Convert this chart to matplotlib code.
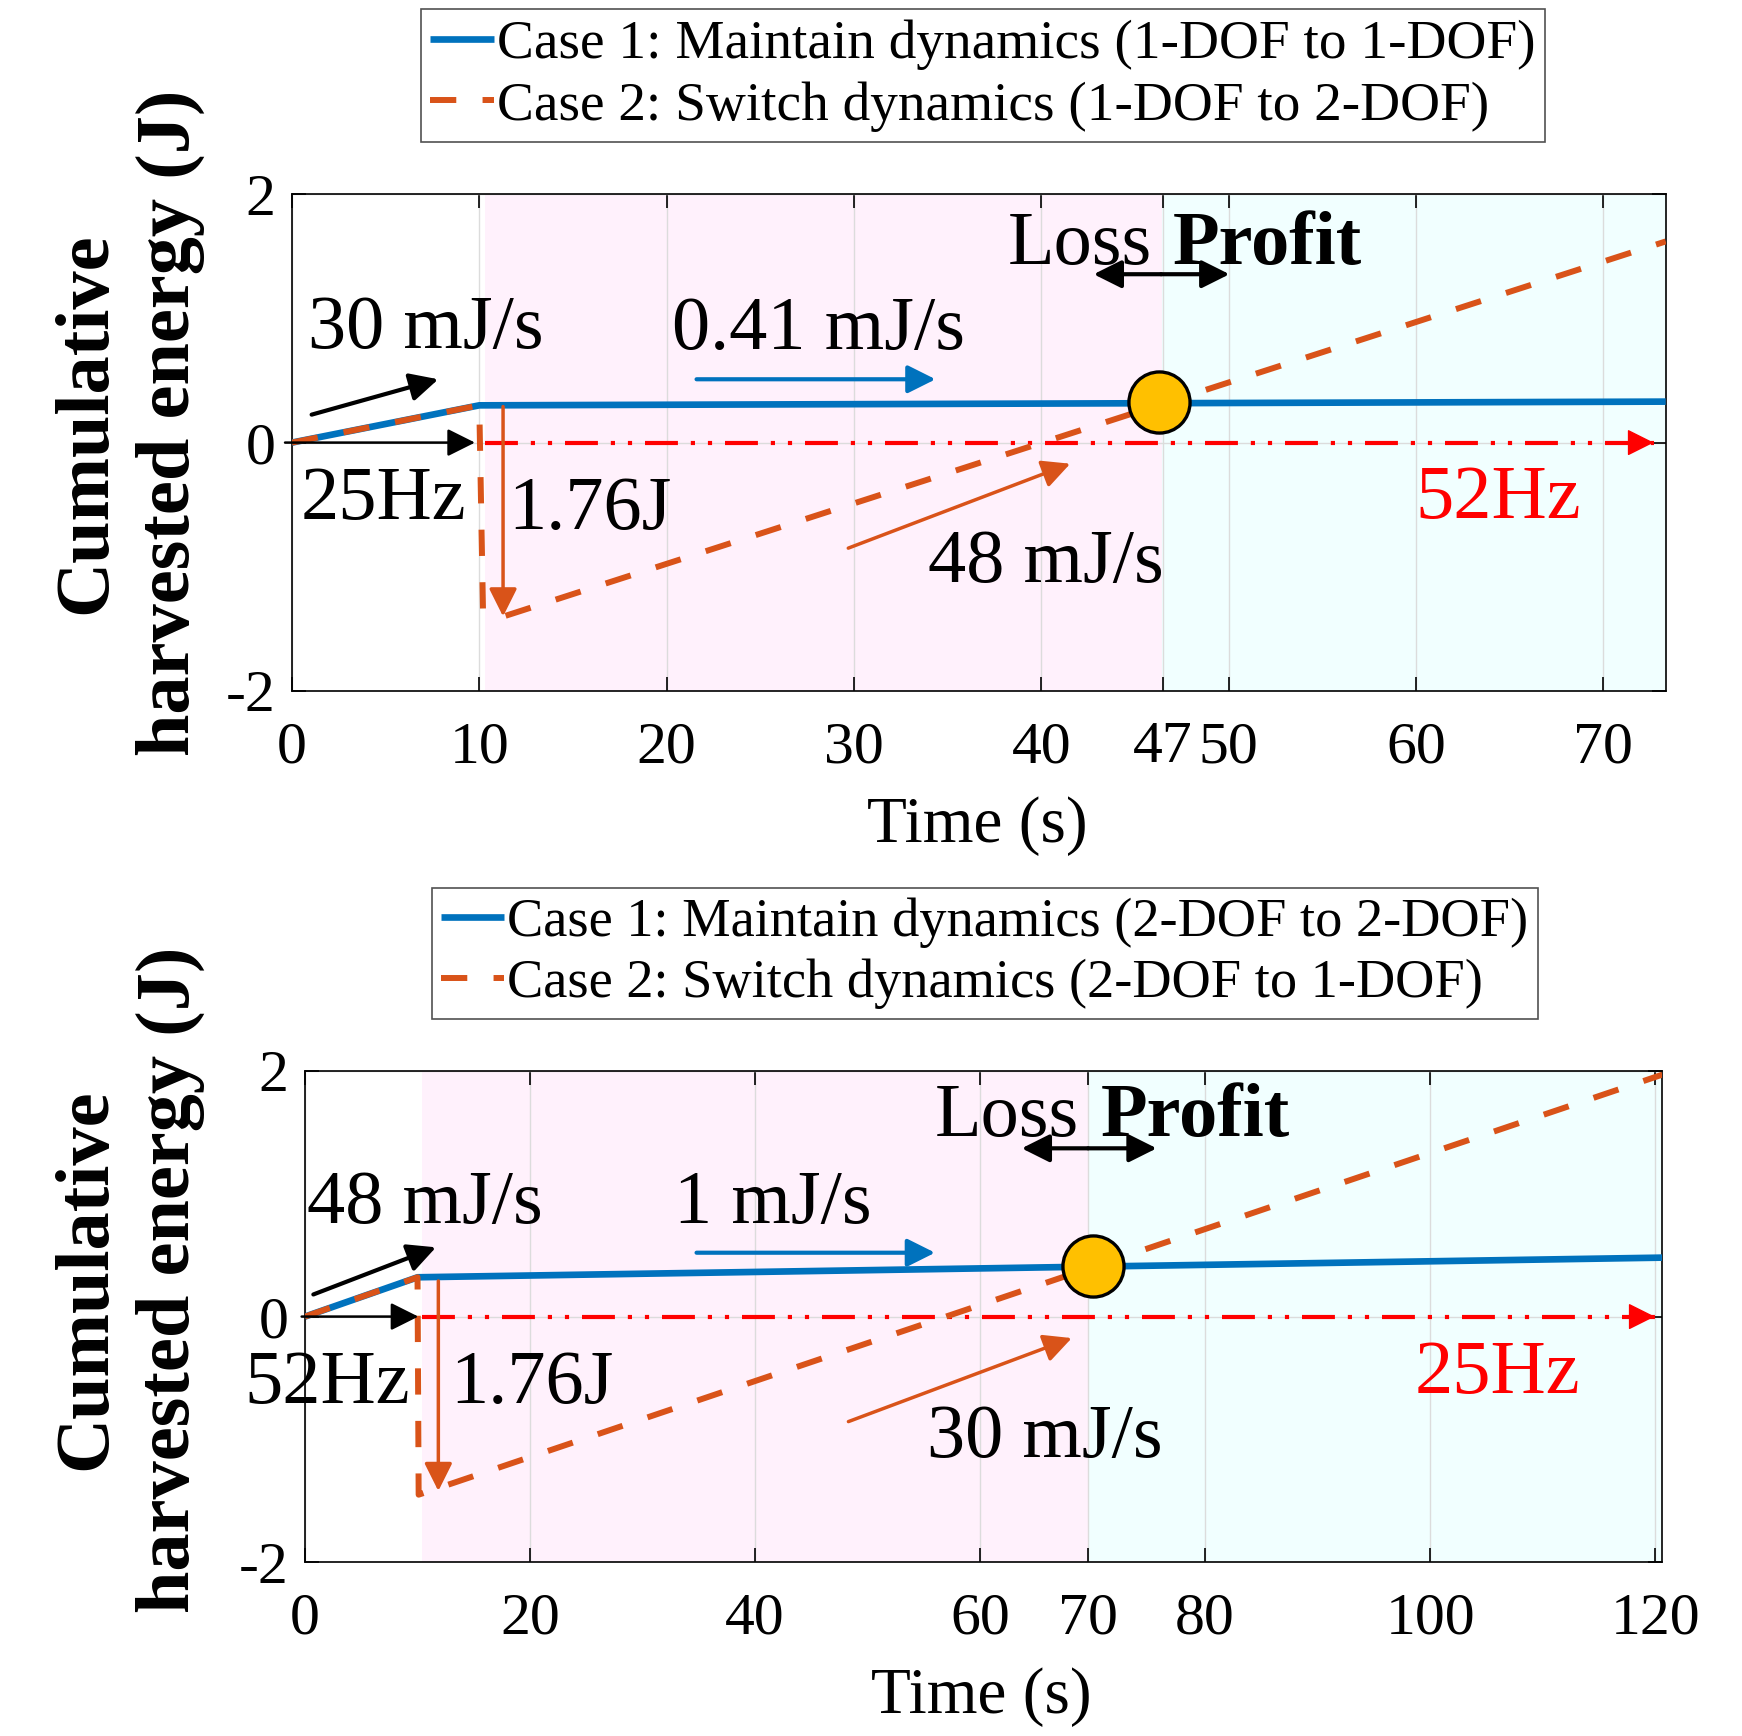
import matplotlib
matplotlib.use('Agg')
import matplotlib.pyplot as plt

plt.rcParams['font.family'] = ['Liberation Serif', 'DejaVu Serif']

# ---------------- data ----------------
# top panel (25 Hz -> 52 Hz)
t1_case1 = [0, 10, 73.34]
e1_case1 = [0, 0.30, 0.33]
t1_case2 = [0, 10, 10.2, 11.3, 73.34]
e1_case2 = [0, 0.30, -1.36, -1.40, 1.62]
t1_cross, e1_cross = 46.3, 0.33
x1_lim = [0, 73.34]
x1_ticks = [0, 10, 20, 30, 40, 46.5, 50, 60, 70]
x1_ticklabels = ['0', '10', '20', '30', '40', '47', '50', '60', '70']
t1_loss_span = [10.3, 46.47]
t1_profit_span = [46.47, 73.34]
t1_ref_line = [10.3, 72.7]

# bottom panel (52 Hz -> 25 Hz)
t2_case1 = [0, 10, 120.65]
e2_case1 = [0, 0.32, 0.48]
t2_case2 = [0, 10, 10.1, 120.65]
e2_case2 = [0, 0.32, -1.45, 1.97]
t2_cross, e2_cross = 70.0, 0.41
x2_lim = [0, 120.65]
x2_ticks = [0, 20, 40, 60, 69.6, 80, 100, 120]
x2_ticklabels = ['0', '20', '40', '60', '70', '80', '100', '120']
t2_loss_span = [10.37, 69.63]
t2_profit_span = [69.63, 120.65]
t2_ref_line = [10.4, 119.97]

y_lim = [-2, 2]
y_ticks = [-2, 0, 2]
y_ticklabels = ['-2', '0', '2']

legend1 = ['Case 1: Maintain dynamics (1-DOF to 1-DOF)',
           'Case 2: Switch dynamics (1-DOF to 2-DOF)']
legend2 = ['Case 1: Maintain dynamics (2-DOF to 2-DOF)',
           'Case 2: Switch dynamics (2-DOF to 1-DOF)']

# annotation texts: (text, x, y, color, weight)
texts1 = [('30 mJ/s', 7.17, 0.91, 'black', 'normal'),
          ('0.41 mJ/s', 28.1, 0.90, 'black', 'normal'),
          ('25Hz', 4.88, -0.47, 'black', 'normal'),
          ('1.76J', 15.9, -0.55, 'black', 'normal'),
          ('Loss', 42.08, 1.59, 'black', 'normal'),
          ('Profit', 52.1, 1.59, 'black', 'bold'),
          ('48 mJ/s', 40.23, -0.97, 'black', 'normal'),
          ('52Hz', 64.39, -0.46, 'red', 'normal')]
texts2 = [('48 mJ/s', 10.64, 0.91, 'black', 'normal'),
          ('1 mJ/s', 41.6, 0.91, 'black', 'normal'),
          ('52Hz', 1.93, -0.55, 'black', 'normal'),
          ('1.76J', 20.15, -0.55, 'black', 'normal'),
          ('Loss', 62.4, 1.62, 'black', 'normal'),
          ('Profit', 79.1, 1.62, 'black', 'bold'),
          ('30 mJ/s', 65.8, -0.99, 'black', 'normal'),
          ('25Hz', 106.0, -0.47, 'red', 'normal')]

# arrows: (x_from, y_from, x_to, y_to, color, lw)
BLUE = '#0072BD'
ORANGE = '#D95319'
arrows1 = [(1.05, 0.225, 7.81, 0.51, 'black', 3.0),
           (-0.37, 0.0, 9.77, 0.0, 'black', 1.8),
           (21.6, 0.51, 34.36, 0.51, BLUE, 3.0),
           (11.27, 0.29, 11.27, -1.40, ORANGE, 2.5),
           (29.7, -0.85, 41.55, -0.17, ORANGE, 2.5),
           (46.4, 1.356, 42.8, 1.356, 'black', 3.0),
           (46.4, 1.356, 50.05, 1.356, 'black', 3.0)]
arrows2 = [(0.74, 0.18, 11.64, 0.564, 'black', 3.0),
           (-0.3, 0.0, 10.07, 0.0, 'black', 1.8),
           (34.8, 0.52, 56.0, 0.52, BLUE, 3.0),
           (11.85, 0.29, 11.85, -1.42, ORANGE, 2.5),
           (48.3, -0.855, 68.15, -0.175, ORANGE, 2.5),
           (69.6, 1.37, 63.7, 1.37, 'black', 3.0),
           (69.6, 1.37, 75.7, 1.37, 'black', 3.0)]

PINK = '#FFF1FC'
CYAN = '#F1FFFF'

fig = plt.figure(figsize=(17.42, 17.36), dpi=100)
ax1 = fig.add_axes([0.1676, 0.6020, 0.7886, 0.2861])
ax2 = fig.add_axes([0.1751, 0.1001, 0.7792, 0.2830])


def draw_panel(ax, tc1, ec1, tc2, ec2, tcr, ecr, xlim, xticks, xtl,
               loss, profit, refl, texts, arrows, labels, leg_anchor, leg_fs):
    ax.axvspan(loss[0], loss[1], facecolor=PINK, edgecolor='none', zorder=0.5)
    ax.axvspan(profit[0], profit[1], facecolor=CYAN, edgecolor='none', zorder=0.5)
    ax.grid(True, color='#dcdcdc', lw=1.0, zorder=0.8)
    ax.set_axisbelow(True)
    # reference frequency line
    ax.plot(refl, [0, 0], color='red', lw=3.0,
            dashes=(7.9, 3.1, 1, 3.1, 1, 3.1), dash_capstyle='butt', zorder=2)
    ax.annotate('', xy=(refl[1], 0), xytext=(refl[1] - 1.0 * (xlim[1] / 73.34), 0),
                arrowprops=dict(arrowstyle='-|>,head_length=1.0,head_width=0.5',
                                mutation_scale=17, color='red', lw=1.0,
                                shrinkA=0, shrinkB=0),
                annotation_clip=False, zorder=2)
    l1, = ax.plot(tc1, ec1, color=BLUE, lw=4.8, solid_capstyle='butt', zorder=3)
    l2, = ax.plot(tc2, ec2, color=ORANGE, lw=4.3, linestyle=(0, (4.4, 4.4)),
                  dash_capstyle='butt', zorder=4)
    ax.plot([tcr], [ecr], marker='o', ms=44, mfc='#FFC000', mec='black',
            mew=2.4, zorder=6, clip_on=False)
    for (s, x, y, c, w) in texts:
        ax.text(x, y, s, fontsize=55, color=c, fontweight=w,
                ha='center', va='center', zorder=7, clip_on=False)
    for (x0, y0, x1, y1, c, lw) in arrows:
        ax.annotate('', xy=(x1, y1), xytext=(x0, y0),
                    arrowprops=dict(arrowstyle='-|>,head_length=1.0,head_width=0.5',
                                    mutation_scale=17, color=c, lw=lw,
                                    shrinkA=0, shrinkB=0),
                    annotation_clip=False, zorder=5)
    ax.set_xlim(xlim)
    ax.set_ylim(y_lim)
    ax.set_xticks(xticks)
    ax.set_xticklabels(xtl)
    ax.set_yticks(y_ticks)
    ax.set_yticklabels(y_ticklabels)
    ax.tick_params(direction='in', length=10, width=1.2, top=True, right=True,
                   labelsize=43, colors='black')
    ax.tick_params(axis='x', pad=22)
    ax.tick_params(axis='y', pad=12)
    for sp in ax.spines.values():
        sp.set_linewidth(1.2)
        sp.set_color('black')
    leg = fig.legend([l1, l2], labels, loc='upper left', bbox_to_anchor=leg_anchor,
                     bbox_transform=fig.transFigure, borderaxespad=0,
                     fontsize=leg_fs, frameon=True, fancybox=False,
                     handlelength=1.15, handletextpad=0.05, borderpad=0.18,
                     labelspacing=0.2)
    leg.get_frame().set_edgecolor('#262626')
    leg.get_frame().set_linewidth(1.2)


draw_panel(ax1, t1_case1, e1_case1, t1_case2, e1_case2, t1_cross, e1_cross,
           x1_lim, x1_ticks, x1_ticklabels, t1_loss_span, t1_profit_span,
           t1_ref_line, texts1, arrows1, legend1, (0.2414, 0.9946), 39.8)
draw_panel(ax2, t2_case1, e2_case1, t2_case2, e2_case2, t2_cross, e2_cross,
           x2_lim, x2_ticks, x2_ticklabels, t2_loss_span, t2_profit_span,
           t2_ref_line, texts2, arrows2, legend2, (0.2478, 0.4887), 39.2)

ylab = 'Cumulative\nharvested energy (J)'
fig.text(0.0739, 0.7562, ylab, rotation=90, ha='center', va='center',
         multialignment='center', fontsize=55, fontweight='bold', linespacing=1.28)
fig.text(0.0739, 0.2630, ylab, rotation=90, ha='center', va='center',
         multialignment='center', fontsize=55, fontweight='bold', linespacing=1.28)
fig.text(977.7 / 1742, 1 - 826.0 / 1736, 'Time (s)', ha='center', va='center', fontsize=47)
fig.text(981.6 / 1742, 1 - 1697.0 / 1736, 'Time (s)', ha='center', va='center', fontsize=47)

fig.savefig('out.png', dpi=100)
